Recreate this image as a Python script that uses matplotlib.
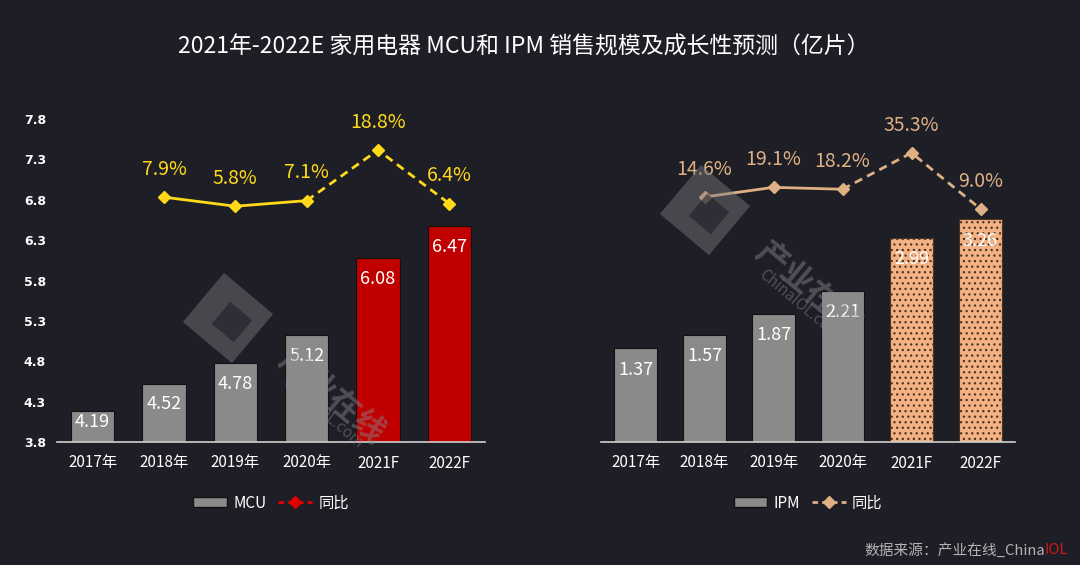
import numpy as np
import matplotlib.pyplot as plt
from matplotlib.patches import Patch, Polygon
from matplotlib.lines import Line2D

plt.rcParams['font.family'] = ['Noto Sans CJK SC', 'DejaVu Sans']
plt.rcParams['hatch.linewidth'] = 0.9

# data
years = ['2017年', '2018年', '2019年', '2020年', '2021F', '2022F']
mcu = [4.19, 4.52, 4.78, 5.12, 6.08, 6.47]
mcu_yoy = [np.nan, 7.9, 5.8, 7.1, 18.8, 6.4]
ipm = [1.37, 1.57, 1.87, 2.21, 2.99, 3.26]
ipm_yoy = [np.nan, 14.6, 19.1, 18.2, 35.3, 9.0]
mcu_ticks = [3.8, 4.3, 4.8, 5.3, 5.8, 6.3, 6.8, 7.3, 7.8]

BG = '#1e1e26'
GRAY = '#8a8a8a'
RED = '#c00000'
TAN = '#f4b183'
YEL = '#ffd91a'
TANLINE = '#deb084'

W, H = 1080, 565
fig = plt.figure(figsize=(10.8, 5.65), dpi=100, facecolor=BG)


def px(x, y):
    return x / W, 1 - y / H


ax1 = fig.add_axes([57 / W, 1 - 442 / H, 428 / W, 323 / H])
ax2 = fig.add_axes([601 / W, 1 - 442 / H, 414 / W, 323 / H])
x = np.arange(len(years))


def style(ax):
    ax.set_facecolor('none')
    for s in ['left', 'right', 'top']:
        ax.spines[s].set_visible(False)
    ax.spines['bottom'].set_color('#d0d0d0')
    ax.spines['bottom'].set_linewidth(1.2)
    ax.set_xlim(-0.5, len(years) - 0.5)
    ax.set_xticks(x)
    ax.set_xticklabels(years, color='white', fontsize=11)
    ax.tick_params(axis='x', length=0, pad=9)


# ---- MCU panel
style(ax1)
ax1.set_ylim(3.8, 7.8)
ax1.set_yticks(mcu_ticks)
ax1.set_yticklabels([f'{t:.1f}' for t in mcu_ticks], color='white',
                    fontsize=9, fontweight='bold', family='DejaVu Sans')
ax1.tick_params(axis='y', length=0, pad=8)
cols = [GRAY] * 4 + [RED] * 2
ax1.bar(x, np.array(mcu) - 3.8, bottom=3.8, width=0.61, color=cols,
        edgecolor='#111111', linewidth=0.8)
for i, v in enumerate(mcu):
    ax1.text(i, v - min(0.26, (v - 3.8) * 0.35), f'{v:.2f}', color='white',
             fontsize=13, ha='center', va='center')

t1 = ax1.twinx()
t1.set_ylim(-48.8, 26)
t1.axis('off')
t1.plot(x[1:4], mcu_yoy[1:4], color=YEL, lw=2)
t1.plot(x[3:], mcu_yoy[3:], color=YEL, lw=2, ls=(0, (3, 2)))
t1.plot(x, mcu_yoy, ls='none', marker='D', ms=6, color=YEL)
for i, v in enumerate(mcu_yoy):
    if not np.isnan(v):
        t1.annotate(f'{v:.1f}%', (i, v), xytext=(0, 20), textcoords='offset points',
                    ha='center', va='center', color=YEL, fontsize=14)

h1 = [Patch(facecolor=GRAY, edgecolor='#111111', label='MCU'),
      Line2D([], [], color='#e00000', lw=2, ls=(0, (2, 1.5)), marker='D', ms=6,
             label='同比')]
ax1.legend(handles=h1, loc='center', bbox_to_anchor=(0.5, -0.189), ncol=2,
           frameon=False, fontsize=11, labelcolor='white', handlelength=2.2,
           handleheight=0.6, columnspacing=0.8, handletextpad=0.4)

# ---- IPM panel
style(ax2)
ax2.set_ylim(0, 4.73)
ax2.set_yticks([])
ax2.bar(x[:4], ipm[:4], width=0.62, color=GRAY, edgecolor='#111111', linewidth=0.8)
ax2.bar(x[4:], ipm[4:], width=0.62, color=TAN, edgecolor='#4a3422', linewidth=0.8,
        hatch='...')
for i, v in enumerate(ipm):
    ax2.text(i, v - 0.31, f'{v:.2f}', color='white', fontsize=13,
             ha='center', va='center')

t2 = ax2.twinx()
t2.set_ylim(-100.5, 51.2)
t2.axis('off')
t2.plot(x[1:4], ipm_yoy[1:4], color=TANLINE, lw=2)
t2.plot(x[3:], ipm_yoy[3:], color=TANLINE, lw=2, ls=(0, (3, 2)))
t2.plot(x, ipm_yoy, ls='none', marker='D', ms=6, color=TANLINE)
for i, v in enumerate(ipm_yoy):
    if not np.isnan(v):
        t2.annotate(f'{v:.1f}%', (i, v), xytext=(0, 20), textcoords='offset points',
                    ha='center', va='center', color=TANLINE, fontsize=14)

h2 = [Patch(facecolor=GRAY, edgecolor='#111111', label='IPM'),
      Line2D([], [], color=TANLINE, lw=2, ls=(0, (2, 1.5)), marker='D', ms=6,
             label='同比')]
ax2.legend(handles=h2, loc='center', bbox_to_anchor=(0.5, -0.189), ncol=2,
           frameon=False, fontsize=11, labelcolor='white', handlelength=2.2,
           handleheight=0.6, columnspacing=0.8, handletextpad=0.4)

# ---- watermark
for lx, ly in [(228, 318), (705, 210)]:
    cx, cy = lx, ly
    ang = np.deg2rad(40)
    sq = np.array([[-1, -1], [1, -1], [1, 1], [-1, 1]]) * 32
    rot = np.array([[np.cos(ang), -np.sin(ang)], [np.sin(ang), np.cos(ang)]])
    outer = sq @ rot.T + [cx, cy]
    inner = (sq * 0.45) @ rot.T + [cx + 4, cy + 4]
    fig.patches.append(Polygon([px(*p) for p in outer], closed=True,
                               transform=fig.transFigure, facecolor='#7a7a80',
                               alpha=0.45, edgecolor='none', zorder=5))
    fig.patches.append(Polygon([px(*p) for p in inner], closed=True,
                               transform=fig.transFigure, facecolor=BG,
                               alpha=0.6, edgecolor='none', zorder=6))
    fig.text(*px(cx + 103, cy + 79), '产业在线', rotation=-40, fontsize=23,
             fontweight='bold', color='#8a8a90', alpha=0.45, ha='center',
             va='center', rotation_mode='anchor', zorder=6)
    fig.text(*px(cx + 95, cy + 95), 'ChinaIOL.com', rotation=-40, fontsize=11,
             color='#8a8a90', alpha=0.45, ha='center', va='center',
             rotation_mode='anchor', zorder=6)

# ---- title and source
fig.text(*px(524, 47), '2021年-2022E 家用电器 MCU和 IPM 销售规模及成长性预测（亿片）',
         color='white', fontsize=16.5, ha='center', va='center')
src = fig.text(*px(864, 550), '数据来源：产业在线_China', color='#b4b4b4',
               fontsize=10.6, ha='left', va='center')
plt.annotate('IOL', xy=(1, 0.5), xycoords=src, color='#d01818', fontsize=10.6,
             ha='left', va='center', annotation_clip=False)

fig.savefig('out.png', dpi=100, facecolor=BG)
